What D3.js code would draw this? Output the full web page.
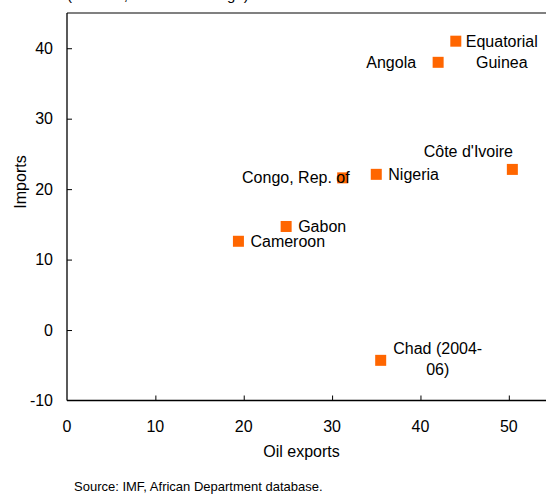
<!DOCTYPE html>
<html>
<head>
<meta charset="utf-8">
<script src="https://cdn.jsdelivr.net/npm/d3@7"></script>
<style>
  html, body { margin: 0; padding: 0; background: #fff; }
  svg { display: block; font-family: "Liberation Sans", Arial, sans-serif; }
</style>
</head>
<body>
<svg id="chart" width="546" height="496"></svg>
<script>
// ---- Data ----
const countries = ["Equatorial Guinea", "Angola", "Côte d'Ivoire", "Nigeria", "Congo, Rep. of", "Gabon", "Cameroon", "Chad (2004-06)"];
const oilExports = [44.0, 42.0, 50.4, 35.0, 31.2, 24.8, 19.4, 35.5];
const imports = [41.0, 38.0, 22.8, 22.1, 21.6, 14.7, 12.6, -4.3];
const labelLines = [["Equatorial", "Guinea"], ["Angola"], ["Côte d'Ivoire"], ["Nigeria"], ["Congo, Rep. of"], ["Gabon"], ["Cameroon"], ["Chad (2004-", "06)"]];
const labelPlacement = ["rightTwo", "left", "above", "right", "leftOver", "right", "right", "rightTwo"];
const xTicks = [0, 10, 20, 30, 40, 50];
const yTicks = [-10, 0, 10, 20, 30, 40];
const title = "(Percent, 2004–07 change)";
const xTitle = "Oil exports";
const yTitle = "Imports";
const source = "Source: IMF, African Department database.";

// ---- Layout ----
const svg = d3.select("#chart");
const mLeft = 67, mRight = 553, mTop = 13, mBottom = 400.5;
const x = d3.scaleLinear().domain([0, 55]).range([mLeft, mRight]);
const y = d3.scaleLinear().domain([-10, 45]).range([mBottom, mTop]);

// title (mostly cut off at the top, as in the reference)
svg.append("text").attr("x", 67).attr("y", -0.5).attr("font-size", 15).attr("fill", "#000").text(title);

// top border (gray)
svg.append("line").attr("x1", mLeft).attr("x2", 546).attr("y1", mTop).attr("y2", mTop)
  .attr("stroke", "#808080").attr("stroke-width", 2);

// y axis
const yAxis = d3.axisRight(y).tickValues(yTicks.filter(d => d > -10)).tickSize(5).tickFormat("");
const gy = svg.append("g").attr("transform", `translate(${mLeft},0)`).call(yAxis);
gy.select(".domain").remove();
gy.selectAll(".tick line").attr("stroke", "#000");
svg.append("line").attr("x1", mLeft).attr("x2", mLeft).attr("y1", mTop).attr("y2", mBottom).attr("stroke", "#000").attr("stroke-width", 1.3);
svg.selectAll(".ylab").data(yTicks).enter().append("text")
  .attr("x", 53).attr("y", d => y(d)).attr("dy", "0.35em").attr("text-anchor", "end")
  .attr("font-size", 16).attr("fill", "#000").text(d => d);

// x axis
const xAxis = d3.axisTop(x).tickValues(xTicks.filter(d => d > 0)).tickSize(5).tickFormat("");
const gx = svg.append("g").attr("transform", `translate(0,${mBottom})`).call(xAxis);
gx.select(".domain").remove();
gx.selectAll(".tick line").attr("stroke", "#000");
svg.append("line").attr("x1", mLeft).attr("x2", 546).attr("y1", mBottom).attr("y2", mBottom).attr("stroke", "#000").attr("stroke-width", 1.3);
svg.selectAll(".xlab").data(xTicks).enter().append("text")
  .attr("x", d => x(d)).attr("y", 432).attr("text-anchor", "middle")
  .attr("font-size", 16).attr("fill", "#000").text(d => d);

// axis titles
svg.append("text").attr("x", 301.5).attr("y", 457).attr("text-anchor", "middle").attr("font-size", 16).text(xTitle);
svg.append("text").attr("transform", "translate(26,182) rotate(-90)").attr("text-anchor", "middle").attr("font-size", 16).text(yTitle);

// source
svg.append("text").attr("x", 74).attr("y", 491).attr("font-size", 13).text(source);

// markers
const data = countries.map((c, i) => ({ c, xv: oilExports[i], yv: imports[i], lines: labelLines[i], place: labelPlacement[i] }));
svg.selectAll(".pt").data(data).enter().append("rect")
  .attr("x", d => x(d.xv) - 5.5).attr("y", d => y(d.yv) - 5.5)
  .attr("width", 11).attr("height", 11).attr("fill", "#FF6600");

// labels (drawn over the markers, as "of" in "Congo, Rep. of")
data.forEach(d => {
  const px = x(d.xv), py = y(d.yv);
  let anchor, tx, ty;
  if (d.place === "rightTwo") { anchor = "middle"; tx = px + (d.c.startsWith("Chad") ? 57 : 46); ty = py + 6; }
  else if (d.place === "left") { anchor = "end"; tx = px - 22; ty = py + 6; }
  else if (d.place === "above") { anchor = "middle"; tx = px - 44; ty = py - 12; }
  else if (d.place === "right") { anchor = "start"; tx = px + 12; ty = py + 6; }
  else { anchor = "end"; tx = px + 7; ty = py + 5; }
  if (d.c.startsWith("Chad")) ty = py - 6;
  const t = svg.append("text").attr("text-anchor", anchor).attr("font-size", 16).attr("fill", "#000");
  d.lines.forEach((ln, k) => t.append("tspan").attr("x", tx).attr("y", ty + k * 21).text(ln));
});
</script>
</body>
</html>
